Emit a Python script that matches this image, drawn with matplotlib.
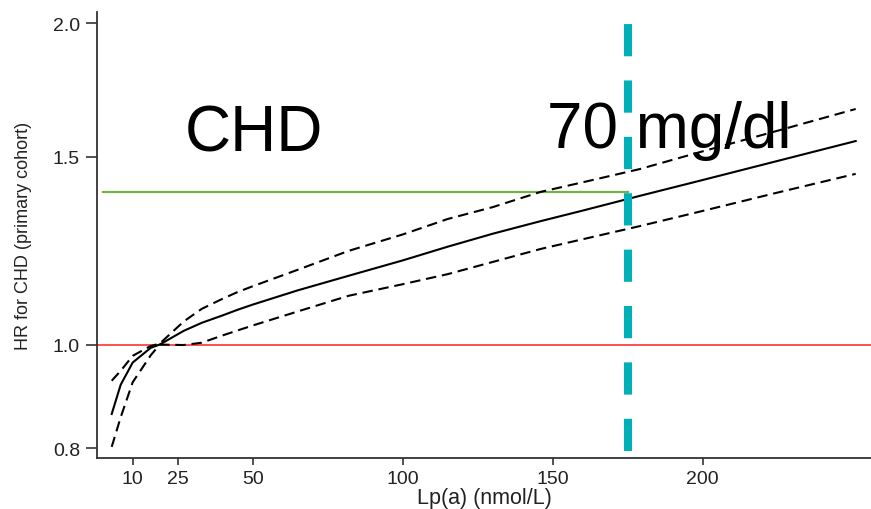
import matplotlib
matplotlib.use("Agg")
import matplotlib.pyplot as plt
import numpy as np

plt.rcParams['font.family'] = ['Liberation Sans', 'DejaVu Sans']

# Data
lpa = [3, 6, 10, 16, 19, 27, 33, 40, 45, 50, 65, 82, 100, 115, 130, 146, 160, 179, 200, 225, 251]
hr_center = [0.861, 0.917, 0.962, 0.993, 1.000, 1.030, 1.048, 1.065, 1.078, 1.090, 1.124, 1.160,
             1.199, 1.235, 1.270, 1.305, 1.335, 1.378, 1.426, 1.486, 1.551]
hr_upper = [0.925, 0.945, 0.976, 0.997, 1.002, 1.051, 1.080, 1.104, 1.120, 1.134, 1.175, 1.224,
            1.268, 1.311, 1.345, 1.390, 1.419, 1.460, 1.517, 1.586, 1.662]
hr_lower = [0.802, 0.855, 0.922, 0.977, 1.000, 0.999, 1.004, 1.020, 1.031, 1.042, 1.074, 1.111,
            1.139, 1.164, 1.195, 1.229, 1.255, 1.291, 1.334, 1.388, 1.445]

ref_hr = 1.0
threshold_lpa = 175
threshold_hr = 1.39
cyan_bottom = 0.795

xticks = [10, 25, 50, 100, 150, 200]
yticks = [0.8, 1.0, 1.5, 2.0]
ytick_labels = ["0.8", "1.0", "1.5", "2.0"]

W, H = 871, 510
fig = plt.figure(figsize=(W / 100, H / 100), dpi=100)
left_px, bottom_px, top_px = 96.7, 459, 12.7
ax = fig.add_axes([left_px / W, 1 - bottom_px / H, 1 - left_px / W, (bottom_px - top_px) / H])

ax.set_yscale('log')
ax.set_xlim(-2, 256.1)
ax.set_ylim(0.783, 2.05)

# reference lines
ax.axhline(ref_hr, color='#ff2020', lw=1.1, zorder=2)
ax.plot([0, threshold_lpa], [threshold_hr, threshold_hr], color='#76b043', lw=1.6, zorder=2)

# curves
dash = (0, (5.0, 2.8))
ax.plot(lpa, hr_center, color='black', lw=1.5, zorder=3)
ax.plot(lpa, hr_upper, color='black', lw=1.5, ls=dash, zorder=3)
ax.plot(lpa, hr_lower, color='black', lw=1.5, ls=dash, zorder=3)

# cyan threshold line
ln, = ax.plot([threshold_lpa, threshold_lpa], [cyan_bottom, 2.4], color='#00b0b9', lw=5.8,
              clip_on=False, zorder=4, solid_capstyle='butt', dash_capstyle='butt')
ln.set_linestyle((0, (4.0, 3.0)))

# axes styling
for s in ['top', 'right']:
    ax.spines[s].set_visible(False)
for s in ['left', 'bottom']:
    ax.spines[s].set_color('#333333')
    ax.spines[s].set_linewidth(1.3)

ax.set_xticks(xticks)
ax.set_xticklabels([str(t) for t in xticks])
ax.set_yticks(yticks)
ax.set_yticklabels(ytick_labels)
ax.yaxis.set_minor_locator(matplotlib.ticker.NullLocator())
ax.tick_params(axis='y', length=8, width=1.2, color='#333333', pad=4, labelsize=14, labelcolor='#222222')
ax.tick_params(axis='x', length=5, width=1.2, color='#333333', pad=4, labelsize=14, labelcolor='#222222')

ax.set_xlabel('Lp(a) (nmol/L)', fontsize=15.5, color='#222222')
ax.xaxis.label.set_va('baseline')
ax.xaxis.set_label_coords((484 - left_px) / (W - left_px), (bottom_px - 504) / (bottom_px - top_px))
ax.set_ylabel('HR for CHD (primary cohort)', fontsize=13, color='#222222')
ax.yaxis.set_label_coords((32 - left_px) / (W - left_px), 0.5)

fig.text(185 / W, 1 - 152 / H, 'CHD', fontsize=46, ha='left', va='baseline', color='black')
fig.text(547 / W, 1 - 148 / H, '70 mg/dl', fontsize=46, ha='left', va='baseline', color='black',
         zorder=5)

fig.savefig('out.png', dpi=100)
